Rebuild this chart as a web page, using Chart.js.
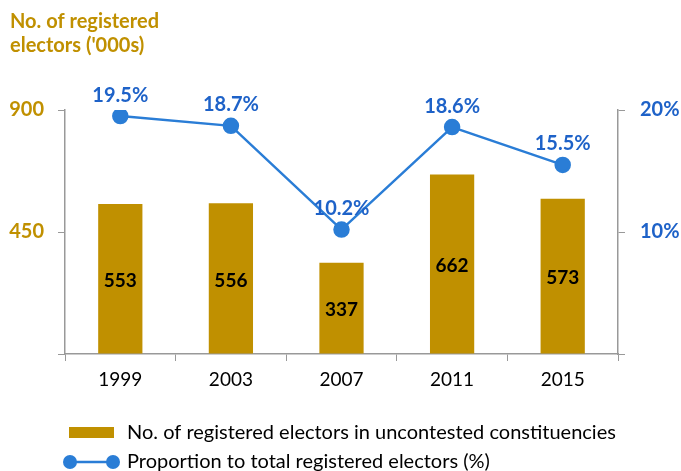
<!DOCTYPE html>
<html>
<head>
<meta charset="utf-8">
<script src="https://cdn.jsdelivr.net/npm/chart.js@4.4.0/dist/chart.umd.min.js"></script>
<style>
  html, body { margin: 0; padding: 0; background: #fff; }
  #wrap { width: 681px; height: 471px; position: relative; }
</style>
</head>
<body>
<div id="wrap"><canvas id="chart"></canvas></div>
<script>
const years = ["1999", "2003", "2007", "2011", "2015"];
const electors = [553, 556, 337, 662, 573];
const proportion = [19.5, 18.7, 10.2, 18.6, 15.5];

const barLabel = "No. of registered electors in uncontested constituencies";
const lineLabel = "Proportion to total registered electors (%)";
const titleLines = ["No. of registered", "electors ('000s)"];

const gold = "#C09000";
const blue = "#2A7DD6";
const blueText = "#1E62C8";
const axisGrey = "#999999";
const fontFamily = "Lato, 'Open Sans', sans-serif";

const labelsPlugin = {
    id: "labelsPlugin",
    afterDatasetsDraw(chart) {
        const ctx = chart.ctx;
        ctx.save();
        ctx.textAlign = "center";
        ctx.textBaseline = "middle";

        const bars = chart.getDatasetMeta(0).data;
        ctx.font = `bold 19px ${fontFamily}`;
        ctx.fillStyle = "#000";
        bars.forEach((bar, i) => {
            const mid = (bar.y + bar.base) / 2;
            ctx.fillText(electors[i], bar.x, mid + 2);
        });

        const pts = chart.getDatasetMeta(1).data;
        ctx.font = `bold 20px ${fontFamily}`;
        ctx.fillStyle = blueText;
        pts.forEach((pt, i) => {
            ctx.fillText(proportion[i].toFixed(1) + "%", pt.x, pt.y - 21);
        });

        // title
        ctx.textAlign = "left";
        ctx.fillStyle = gold;
        ctx.font = `bold 20px ${fontFamily}`;
        ctx.fillText(titleLines[0], 10, 22);
        ctx.fillText(titleLines[1], 10, 46);

        // legend
        ctx.fillStyle = gold;
        ctx.fillRect(69, 427, 45, 11);
        ctx.fillStyle = "#000";
        ctx.font = `20px ${fontFamily}`;
        ctx.fillText(barLabel, 127, 433);

        ctx.strokeStyle = blue;
        ctx.lineWidth = 2.5;
        ctx.beginPath();
        ctx.moveTo(70, 462);
        ctx.lineTo(113, 462);
        ctx.stroke();
        ctx.fillStyle = blue;
        [70, 113].forEach(x => {
            ctx.beginPath();
            ctx.arc(x, 462, 7, 0, Math.PI * 2);
            ctx.fill();
        });
        ctx.fillStyle = "#000";
        ctx.fillText(lineLabel, 127, 462);
        ctx.restore();
    }
};

new Chart(document.getElementById("chart"), {
    data: {
        labels: years,
        datasets: [
            {
                type: "bar",
                label: barLabel,
                data: electors,
                backgroundColor: gold,
                yAxisID: "y",
                barPercentage: 0.8,
                categoryPercentage: 0.5,
                order: 2
            },
            {
                type: "line",
                label: lineLabel,
                data: proportion,
                borderColor: blue,
                backgroundColor: blue,
                borderWidth: 2.5,
                pointRadius: 7,
                pointHoverRadius: 7,
                tension: 0,
                yAxisID: "y2",
                order: 1
            }
        ]
    },
    options: {
        responsive: true,
        maintainAspectRatio: false,
        animation: false,
        layout: { padding: { top: 110, bottom: 77, left: 0, right: 0 } },
        plugins: {
            legend: { display: false },
            tooltip: { enabled: false }
        },
        scales: {
            x: {
                offset: true,
                grid: { offset: true, drawOnChartArea: false, tickLength: 7, color: axisGrey },
                border: { color: axisGrey, width: 1.5 },
                ticks: { color: "#000", font: { family: fontFamily, size: 19 }, padding: 7 },
                afterFit: s => { s.height = 40; }
            },
            y: {
                position: "left",
                min: 0,
                max: 900,
                grid: { drawOnChartArea: false, tickLength: 7, color: axisGrey },
                border: { color: axisGrey, width: 1.5 },
                ticks: {
                    stepSize: 450,
                    color: gold,
                    font: { family: fontFamily, size: 20, weight: "bold" },
                    padding: 14,
                    callback: v => v === 0 ? "" : v
                },
                afterFit: s => { s.width = 65; }
            },
            y2: {
                position: "right",
                min: 0,
                max: 20,
                grid: { drawOnChartArea: false, tickLength: 7, color: axisGrey },
                border: { color: axisGrey, width: 1.5 },
                ticks: {
                    stepSize: 10,
                    color: blueText,
                    font: { family: fontFamily, size: 20, weight: "bold" },
                    padding: 15,
                    callback: v => v === 0 ? "" : v + "%"
                },
                afterFit: s => { s.width = 63; }
            }
        }
    },
    plugins: [labelsPlugin]
});
</script>
</body>
</html>
